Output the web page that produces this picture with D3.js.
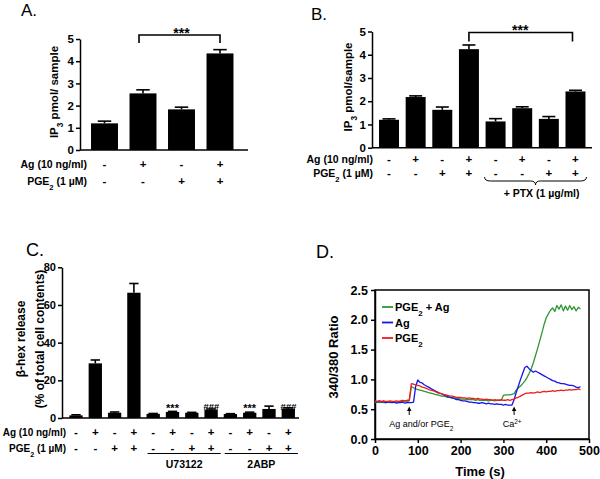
<!DOCTYPE html>
<html>
<head>
<meta charset="utf-8">
<script src="https://cdn.jsdelivr.net/npm/d3@7"></script>
<style>
	body { margin: 0; background: #fff; }
	svg { display: block; font-family: "Liberation Sans", Arial, Helvetica, sans-serif; }
	.axis path, .axis line { stroke: #000; stroke-width: 1.5; }
	.axis text { font-weight: bold; fill: #000; font-family: "Liberation Sans", Arial, sans-serif; }
</style>
</head>
<body>
<svg id="fig" width="600" height="479"></svg>
<script>
// ---- panel A : IP3
const aAg = ["-", "+", "-", "+"];
const aPge = ["-", "-", "+", "+"];
const aMean = [1.2, 2.55, 1.83, 4.35];
const aSem = [0.1, 0.16, 0.1, 0.17];
const aTicks = [0, 1, 2, 3, 4, 5];

// ---- panel B : IP3 with PTX
const bAg = ["-", "+", "-", "+", "-", "+", "-", "+"];
const bPge = ["-", "-", "+", "+", "-", "-", "+", "+"];
const bMean = [1.2, 2.18, 1.63, 4.24, 1.13, 1.7, 1.24, 2.42];
const bSem = [0.04, 0.05, 0.12, 0.18, 0.12, 0.06, 0.1, 0.05];
const bTicks = [0, 1, 2, 3, 4, 5];

// ---- panel C : beta-hex release
const cAg = ["-", "+", "-", "+", "-", "+", "-", "+", "-", "+", "-", "+"];
const cPge = ["-", "-", "+", "+", "-", "-", "+", "+", "-", "-", "+", "+"];
const cMean = [1.4, 29.0, 2.8, 66.5, 2.2, 3.2, 2.8, 4.4, 2.1, 2.8, 4.8, 5.0];
const cSem = [0.3, 1.8, 0.4, 4.9, 0.2, 0.3, 0.2, 0.4, 0.2, 0.3, 1.5, 0.4];
const cMarks = ["", "", "", "", "", "***", "", "###", "", "***", "", "###"];
const cTicks = [0, 20, 40, 60, 80];
const cGroupNames = ["U73122", "2ABP"];
const cGroupFirst = [4, 8];
const cGroupLast = [7, 11];

// ---- panel D : Ca2+ traces (340/380 ratio, every 5 s)
const dTime = d3.range(0, 485, 5);
const dPgeAg = [0.61,0.62,0.61,0.62,0.61,0.61,0.62,0.61,0.62,0.61,0.62,0.62,0.63,0.63,0.64,0.63,0.64,
	0.88,0.86,0.84,0.83,0.82,0.81,0.80,0.79,0.78,0.77,0.76,0.75,0.74,0.73,0.72,0.72,0.71,0.70,0.70,
	0.69,0.69,0.68,0.68,0.67,0.67,0.67,0.66,0.66,0.66,0.66,0.65,0.66,0.65,0.65,0.65,0.65,0.64,0.65,
	0.65,0.64,0.65,0.65,0.65,0.73,0.74,0.74,0.74,0.75,0.76,0.82,0.86,0.89,0.93,0.97,1.03,1.10,1.18,
	1.28,1.40,1.52,1.65,1.78,1.92,2.03,2.10,2.16,2.20,2.14,2.24,2.18,2.25,2.15,2.23,2.16,2.24,2.17,
	2.22,2.15,2.21,2.18];
const dAgOnly = [0.63,0.62,0.64,0.62,0.63,0.61,0.62,0.62,0.61,0.62,0.60,0.61,0.61,0.62,0.60,0.61,0.61,
	0.61,0.62,0.88,0.99,0.95,0.94,0.91,0.89,0.87,0.85,0.83,0.81,0.79,0.77,0.76,0.74,0.73,0.71,0.70,
	0.69,0.68,0.66,0.66,0.65,0.64,0.64,0.63,0.62,0.62,0.61,0.61,0.60,0.60,0.61,0.60,0.59,0.60,0.59,
	0.59,0.58,0.59,0.58,0.58,0.57,0.58,0.57,0.57,0.57,0.66,0.78,0.89,1.00,1.10,1.20,1.22,1.18,1.15,
	1.12,1.14,1.12,1.10,1.08,1.06,1.04,1.02,1.00,0.98,0.97,0.95,0.94,0.93,0.93,0.92,0.91,0.90,0.90,
	0.89,0.87,0.86,0.88];
const dPgeOnly = [0.64,0.63,0.64,0.63,0.64,0.63,0.63,0.64,0.63,0.63,0.64,0.63,0.64,0.65,0.64,0.65,0.65,
	0.93,0.92,0.91,0.90,0.89,0.87,0.86,0.85,0.83,0.82,0.81,0.80,0.78,0.77,0.76,0.75,0.74,0.73,0.72,
	0.72,0.71,0.70,0.70,0.70,0.69,0.69,0.68,0.69,0.68,0.68,0.67,0.68,0.67,0.67,0.66,0.67,0.66,0.66,
	0.65,0.66,0.65,0.65,0.66,0.65,0.65,0.66,0.65,0.66,0.67,0.69,0.70,0.72,0.74,0.76,0.77,0.77,0.78,
	0.77,0.78,0.79,0.78,0.79,0.80,0.79,0.80,0.80,0.81,0.80,0.81,0.81,0.82,0.81,0.82,0.82,0.83,0.82,
	0.83,0.83,0.84,0.83];
const dNames = [[["PGE"], ["2", "sub"], [" + Ag"]], [["Ag"]], [["PGE"], ["2", "sub"]]];
const dSeries = [dPgeAg, dAgOnly, dPgeOnly];
const dColors = ["#2f9632", "#1515e6", "#ee1c1c"];
const dTicksX = [0, 100, 200, 300, 400, 500];
const dTicksY = [0, 0.5, 1.0, 1.5, 2.0, 2.5];

const svg = d3.select("#fig");

// text with sub / superscript pieces
function rich(sel, parts) {
	parts.forEach(function(p) {
		const t = sel.append("tspan").text(p[0]);
		if (p[1] === "sub") t.attr("font-size", "72%").attr("baseline-shift", "sub");
		if (p[1] === "sup") t.attr("font-size", "72%").attr("baseline-shift", "super");
	});
	return sel;
}

function label(x, y, parts, size, anchor, weight) {
	const t = svg.append("text")
		.attr("x", x).attr("y", y)
		.attr("font-size", size + "px")
		.attr("font-weight", weight || "bold")
		.attr("text-anchor", anchor || "start")
		.attr("fill", "#000");
	return rich(t, parts);
}

function yTitle(cx, cy, parts, size) {
	const t = svg.append("text")
		.attr("transform", "translate(" + cx + "," + cy + ") rotate(-90)")
		.attr("text-anchor", "middle")
		.attr("dy", "0.35em")
		.attr("font-size", size + "px")
		.attr("font-weight", "bold");
	return rich(t, parts);
}

// generic bar panel (GraphPad style, upper error bar only)
function barPanel(p) {
	const x = d3.scaleBand()
		.domain(d3.range(p.mean.length))
		.range(p.xr)
		.paddingInner(p.pad)
		.paddingOuter(p.pad / 2);
	const y = d3.scaleLinear().domain(p.yd).range(p.yr);
	const bw = x.bandwidth();
	const g = svg.append("g");

	g.selectAll("rect.bar")
		.data(p.mean)
		.enter()
		.append("rect")
		.attr("x", function(d, i) { return x(i); })
		.attr("y", function(d) { return y(d); })
		.attr("width", bw)
		.attr("height", function(d) { return y(0) - y(d); })
		.attr("fill", "#000");

	g.selectAll("line.err")
		.data(p.mean)
		.enter()
		.append("line")
		.attr("x1", function(d, i) { return x(i) + bw / 2; })
		.attr("x2", function(d, i) { return x(i) + bw / 2; })
		.attr("y1", function(d) { return y(d); })
		.attr("y2", function(d, i) { return y(d + p.sem[i]); })
		.attr("stroke", "#000").attr("stroke-width", 1.6);

	g.selectAll("line.cap")
		.data(p.mean)
		.enter()
		.append("line")
		.attr("x1", function(d, i) { return x(i) + bw / 2 - bw * p.cap / 2; })
		.attr("x2", function(d, i) { return x(i) + bw / 2 + bw * p.cap / 2; })
		.attr("y1", function(d, i) { return y(d + p.sem[i]); })
		.attr("y2", function(d, i) { return y(d + p.sem[i]); })
		.attr("stroke", "#000").attr("stroke-width", 1.6);

	// axes
	g.append("g")
		.attr("class", "axis")
		.attr("transform", "translate(" + p.axisX + ",0)")
		.call(d3.axisLeft(y).tickValues(p.ticks).tickFormat(d3.format("d"))
			.tickSize(4).tickSizeOuter(0).tickPadding(2))
		.selectAll("text").attr("font-size", p.tickFont + "px");
	g.append("line")
		.attr("x1", p.axisX).attr("x2", p.axisEnd)
		.attr("y1", y(0)).attr("y2", y(0))
		.attr("stroke", "#000").attr("stroke-width", 1.6);

	// +/- rows
	[p.ag, p.pge].forEach(function(row, r) {
		g.selectAll("text.sign" + r)
			.data(row)
			.enter()
			.append("text")
			.attr("x", function(d, i) { return x(i) + bw / 2; })
			.attr("y", p.rows[r] + 4)
			.attr("text-anchor", "middle")
			.attr("font-size", "11.5px")
			.attr("font-weight", "bold")
			.text(function(d) { return d; });
	});
	label(p.labelX, p.rows[0] + 4, [["Ag (10 ng/ml)"]], p.labelFont, "end");
	label(p.labelX, p.rows[1] + 4, [["PGE"], ["2", "sub"], [" (1 \u00b5M)"]], p.labelFont, "end");

	return { x: x, y: y, bw: bw };
}

// ---------- A
const A = barPanel({
	mean: aMean, sem: aSem, ag: aAg, pge: aPge, ticks: aTicks,
	xr: [85.25, 239.25], pad: 0.3, cap: 0.5,
	yd: [0, 5], yr: [150, 39], axisX: 80, axisEnd: 248, tickFont: 11.5,
	rows: [164, 181], labelX: 87, labelFont: 10.5
});
label(21, 16, [["A."]], 17, "start", "normal");
yTitle(54, 92, [["IP"], ["3", "sub"], [" pmol/ sample"]], 11.5);
svg.append("path")
	.attr("d", "M" + (A.x(1) + A.bw / 2 - 4) + ",43V35H" + (A.x(3) + A.bw / 2) + "V43")
	.attr("fill", "none").attr("stroke", "#000").attr("stroke-width", 1.6);
label((A.x(1) + A.x(3) + A.bw) / 2, 37.5, [["***"]], 14, "middle");

// ---------- B
const B = barPanel({
	mean: bMean, sem: bSem, ag: bAg, pge: bPge, ticks: bTicks,
	xr: [375.7, 588.8], pad: 0.25, cap: 0.65,
	yd: [0, 5], yr: [147.7, 31.5], axisX: 372, axisEnd: 592, tickFont: 11.5,
	rows: [158.5, 172.5], labelX: 373, labelFont: 10.5
});
label(311, 20, [["B."]], 17, "start", "normal");
yTitle(348, 87, [["IP"], ["3", "sub"], [" pmol/sample"]], 11.5);
svg.append("path")
	.attr("d", "M" + (B.x(3) + B.bw / 2) + ",41.5V32.5H" + (B.x(7) + B.bw / 2 - 3) + "V41.5")
	.attr("fill", "none").attr("stroke", "#000").attr("stroke-width", 1.6);
label((B.x(3) + B.x(7) + B.bw) / 2 - 2, 35, [["***"]], 14, "middle");
// PTX brace
(function() {
	const l = B.x(4) - 1, r = B.x(7) + B.bw + 1, m = (l + r) / 2;
	svg.append("path")
		.attr("d", "M" + l + ",177 Q" + l + ",181 " + (l + 6) + ",181 L" + (m - 5) + ",181 Q" + m + ",181 " + m + ",185"
			+ " Q" + m + ",181 " + (m + 5) + ",181 L" + (r - 6) + ",181 Q" + r + ",181 " + r + ",177")
		.attr("fill", "none").attr("stroke", "#000").attr("stroke-width", 1);
	label(m + 6, 197, [["+ PTX (1 \u00b5g/ml)"]], 10.5, "middle");
})();

// ---------- C
const C = barPanel({
	mean: cMean, sem: cSem, ag: cAg, pge: cPge, ticks: cTicks,
	xr: [66.35, 297.95], pad: 0.31, cap: 0.7,
	yd: [0, 80], yr: [418, 267.3], axisX: 62, axisEnd: 299, tickFont: 11,
	rows: [432, 448], labelX: 66, labelFont: 10
});
label(26, 256, [["C."]], 18, "start", "normal");
svg.append("text")
	.attr("transform", "translate(21,339) rotate(-90)")
	.attr("text-anchor", "middle").attr("dy", "0.35em")
	.attr("font-size", "12px").attr("font-weight", "bold")
	.text("\u03b2-hex release");
svg.append("text")
	.attr("transform", "translate(40,339) rotate(-90)")
	.attr("text-anchor", "middle").attr("dy", "0.35em")
	.attr("font-size", "12px").attr("font-weight", "bold")
	.text("(% of total cell contents)");
svg.selectAll("text.cmark")
	.data(cMarks)
	.enter()
	.append("text")
	.attr("x", function(d, i) { return C.x(i) + C.bw / 2; })
	.attr("y", function(d) { return d === "###" ? 409.5 : 412; })
	.attr("text-anchor", "middle")
	.attr("font-size", function(d) { return d === "###" ? "9.5px" : "11px"; })
	.attr("font-weight", "bold")
	.attr("font-style", function(d) { return d === "###" ? "italic" : "normal"; })
	.text(function(d) { return d; });
cGroupNames.forEach(function(name, k) {
	const l = C.x(cGroupFirst[k]) + 1, r = C.x(cGroupLast[k]) + C.bw + 3;
	svg.append("line")
		.attr("x1", l).attr("x2", r).attr("y1", 453.5).attr("y2", 453.5)
		.attr("stroke", "#000").attr("stroke-width", 1.2);
	label((l + r) / 2, 468, [[name]], 10.5, "middle");
});

// ---------- D
const xD = d3.scaleLinear().domain([0, 500]).range([375, 589]);
const yD = d3.scaleLinear().domain([0, 2.5]).range([439, 290]);
label(316, 258, [["D."]], 18, "start", "normal");

svg.append("rect")
	.attr("x", xD(0)).attr("y", yD(2.5))
	.attr("width", xD(500) - xD(0)).attr("height", yD(0) - yD(2.5))
	.attr("fill", "none").attr("stroke", "#000").attr("stroke-width", 1.5);

svg.append("g")
	.attr("class", "axis")
	.attr("transform", "translate(" + xD(0) + ",0)")
	.call(d3.axisLeft(yD).tickValues(dTicksY).tickFormat(d3.format(".1f")).tickSize(4).tickSizeOuter(0).tickPadding(3))
	.selectAll("text").attr("font-size", "12.5px");
svg.append("g")
	.attr("class", "axis")
	.attr("transform", "translate(0," + yD(0) + ")")
	.call(d3.axisBottom(xD).tickValues(dTicksX).tickFormat(d3.format("d")).tickSize(4).tickSizeOuter(0).tickPadding(3))
	.selectAll("text").attr("font-size", "12.5px");

yTitle(333, 357, [["340/380 Ratio"]], 13);
label(480, 476, [["Time (s)"]], 13, "middle");

const line = d3.line()
	.x(function(d, i) { return xD(dTime[i]); })
	.y(function(d) { return yD(d); });

// green first, then blue, red on top
[0, 1, 2].forEach(function(k) {
	svg.append("path")
		.datum(dSeries[k])
		.attr("d", line)
		.attr("fill", "none")
		.attr("stroke", dColors[k])
		.attr("stroke-width", 1.3)
		.attr("stroke-linejoin", "round");
});

// legend
dNames.forEach(function(parts, k) {
	const ly = 307 + k * 15.5;
	svg.append("line")
		.attr("x1", 382).attr("x2", 393).attr("y1", ly).attr("y2", ly)
		.attr("stroke", dColors[k]).attr("stroke-width", 1.8);
	label(395, ly + 4, parts, 11, "start");
});

// stimulus arrows
function arrow(t, parts, dx) {
	const ax = xD(t);
	svg.append("line")
		.attr("x1", ax).attr("x2", ax).attr("y1", 415).attr("y2", 409)
		.attr("stroke", "#000").attr("stroke-width", 1);
	svg.append("path")
		.attr("d", "M" + (ax - 2.2) + ",411 L" + ax + ",406.5 L" + (ax + 2.2) + ",411 Z")
		.attr("fill", "#000");
	label(ax + dx, 427, parts, 9, "middle", "normal");
}
arrow(80, [["Ag and/or PGE"], ["2", "sub"]], 12);
arrow(325, [["Ca"], ["2+", "sup"]], -2);
</script>
</body>
</html>
